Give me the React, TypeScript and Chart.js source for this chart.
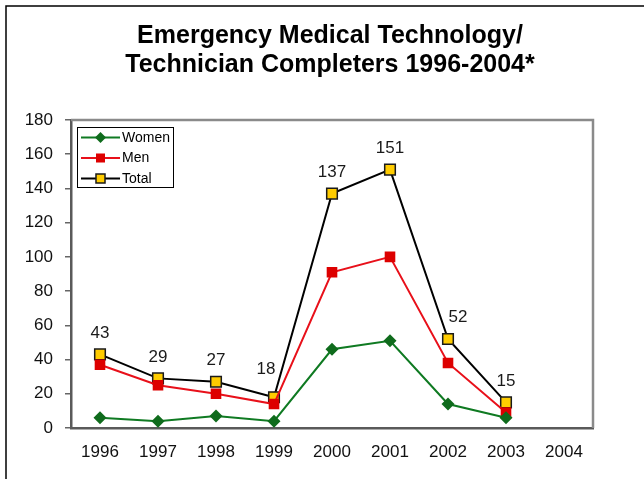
import React, { useEffect, useRef } from 'react';
import { Chart, registerables } from 'chart.js';

Chart.register(...registerables);

const categories = ['1996', '1997', '1998', '1999', '2000', '2001', '2002', '2003', '2004'];
const womenValues = [6, 4, 7, 4, 46, 51, 14, 6, null];
const menValues = [37, 25, 20, 14, 91, 100, 38, 9, null];
const totalValues = [43, 29, 27, 18, 137, 151, 52, 15, null];
const titleLines = ['Emergency Medical Technology/', 'Technician Completers 1996-2004*'];
const yMin = 0;
const yMax = 180;
const yStep = 20;

const FONT = '"Liberation Sans", Arial, sans-serif';

// small manual nudges of the value labels, as in the original chart
const labelNudge: Record<number, [number, number]> = { 3: [-8, -6], 6: [10, 0] };

const framePlugin = {
  id: 'frame',
  beforeDraw(chart: any) {
    const ctx = chart.ctx;
    ctx.save();
    ctx.fillStyle = '#ffffff';
    ctx.fillRect(0, 0, chart.width, chart.height);
    ctx.strokeStyle = '#000000';
    ctx.lineWidth = 1.5;
    ctx.beginPath();
    ctx.moveTo(6, chart.height);
    ctx.lineTo(6, 6);
    ctx.lineTo(chart.width, 6);
    ctx.stroke();
    ctx.restore();
  },
  beforeDatasetsDraw(chart: any) {
    const { ctx, chartArea } = chart;
    ctx.save();
    ctx.strokeStyle = '#8a8a8a';
    ctx.lineWidth = 2.5;
    ctx.beginPath();
    ctx.moveTo(chartArea.left, chartArea.top);
    ctx.lineTo(chartArea.right, chartArea.top);
    ctx.lineTo(chartArea.right, chartArea.bottom);
    ctx.stroke();
    ctx.restore();
  },
};

const titlePlugin = {
  id: 'customTitle',
  afterDraw(chart: any) {
    const ctx = chart.ctx;
    ctx.save();
    ctx.fillStyle = '#000000';
    ctx.font = `bold 25px ${FONT}`;
    ctx.textAlign = 'center';
    ctx.textBaseline = 'middle';
    ctx.fillText(titleLines[0], 330, 36);
    ctx.fillText(titleLines[1], 330, 65);
    ctx.restore();
  },
};

const labelPlugin = {
  id: 'totalLabels',
  afterDatasetsDraw(chart: any) {
    const ctx = chart.ctx;
    const meta = chart.getDatasetMeta(2);
    ctx.save();
    ctx.fillStyle = '#1a1a1a';
    ctx.font = `17px ${FONT}`;
    ctx.textAlign = 'center';
    ctx.textBaseline = 'middle';
    meta.data.forEach((pt: any, i: number) => {
      const v = totalValues[i];
      if (v === null || v === undefined) return;
      const [dx, dy] = labelNudge[i] || [0, 0];
      ctx.fillText(String(v), pt.x + dx, pt.y - 21.5 + dy);
    });
    ctx.restore();
  },
};

function drawMarker(ctx: CanvasRenderingContext2D, style: string, x: number, y: number, r: number, fill: string, stroke: string, lw: number) {
  ctx.save();
  ctx.fillStyle = fill;
  ctx.strokeStyle = stroke;
  ctx.lineWidth = lw;
  ctx.beginPath();
  if (style === 'rectRot') {
    ctx.moveTo(x, y - r);
    ctx.lineTo(x + r, y);
    ctx.lineTo(x, y + r);
    ctx.lineTo(x - r, y);
    ctx.closePath();
  } else {
    const s = r * Math.SQRT1_2;
    ctx.rect(x - s, y - s, 2 * s, 2 * s);
  }
  ctx.fill();
  if (lw > 0) ctx.stroke();
  ctx.restore();
}

const legendPlugin = {
  id: 'boxLegend',
  afterDraw(chart: any) {
    const ctx = chart.ctx;
    const left = 77.5;
    const top = 127.5;
    const w = 96;
    const h = 60;
    ctx.save();
    ctx.fillStyle = '#ffffff';
    ctx.fillRect(left, top, w, h);
    ctx.strokeStyle = '#000000';
    ctx.lineWidth = 1;
    ctx.strokeRect(left, top, w, h);
    chart.data.datasets.forEach((ds: any, i: number) => {
      const y = 137.5 + i * 20.5;
      ctx.strokeStyle = ds.borderColor;
      ctx.lineWidth = 2;
      ctx.beginPath();
      ctx.moveTo(81, y);
      ctx.lineTo(120, y);
      ctx.stroke();
      drawMarker(ctx, ds.pointStyle, 100.5, y, ds.pointRadius * 0.85, ds.pointBackgroundColor, ds.pointBorderColor, ds.pointBorderWidth);
      ctx.fillStyle = '#000000';
      ctx.font = `14px ${FONT}`;
      ctx.textAlign = 'left';
      ctx.textBaseline = 'middle';
      ctx.fillText(ds.label, 122, y + 0.5);
    });
    ctx.restore();
  },
};

export default function App() {
  const canvasRef = useRef<HTMLCanvasElement | null>(null);

  useEffect(() => {
    document.body.style.margin = '0';
    const canvas = canvasRef.current;
    if (!canvas) return;
    const chart = new Chart(canvas, {
      type: 'line',
      data: {
        labels: categories,
        datasets: [
          {
            label: 'Women',
            data: womenValues,
            borderColor: '#0f7a22',
            backgroundColor: '#0f6b1c',
            borderWidth: 2,
            pointStyle: 'rectRot',
            pointRadius: 6.5,
            pointBackgroundColor: '#0f6b1c',
            pointBorderColor: '#0f6b1c',
            pointBorderWidth: 0,
            tension: 0,
          },
          {
            label: 'Men',
            data: menValues,
            borderColor: '#e8101a',
            backgroundColor: '#dd0000',
            borderWidth: 2,
            pointStyle: 'rect',
            pointRadius: 7.5,
            pointBackgroundColor: '#dd0000',
            pointBorderColor: '#dd0000',
            pointBorderWidth: 0,
            tension: 0,
          },
          {
            label: 'Total',
            data: totalValues,
            borderColor: '#000000',
            backgroundColor: '#ffcc00',
            borderWidth: 2,
            pointStyle: 'rect',
            pointRadius: 7.5,
            pointBackgroundColor: '#ffcc00',
            pointBorderColor: '#1a1a1a',
            pointBorderWidth: 1.5,
            tension: 0,
          },
        ],
      },
      options: {
        animation: false,
        responsive: false,
        maintainAspectRatio: false,
        layout: { padding: { top: 120, right: 51, left: 0, bottom: 0 } },
        plugins: {
          legend: { display: false },
          title: { display: false },
          tooltip: { enabled: false },
        },
        scales: {
          x: {
            type: 'category',
            offset: true,
            grid: { display: false, drawTicks: false },
            border: { display: true, color: '#5a5a5a', width: 2.5 },
            ticks: {
              color: '#111111',
              font: { family: FONT, size: 17 },
              padding: 14,
              maxRotation: 0,
              autoSkip: false,
            },
            afterFit(scale: any) {
              scale.height = 51;
            },
          },
          y: {
            min: yMin,
            max: yMax,
            grid: { drawOnChartArea: false, drawTicks: true, tickLength: 6, color: '#666666', lineWidth: 1.5 },
            border: { display: true, color: '#5a5a5a', width: 2.5 },
            ticks: {
              stepSize: yStep,
              color: '#111111',
              font: { family: FONT, size: 17 },
              padding: 12,
            },
            afterFit(scale: any) {
              scale.width = 71;
            },
          },
        },
      },
      plugins: [framePlugin, titlePlugin, labelPlugin, legendPlugin],
    });
    return () => chart.destroy();
  }, []);

  return (
    <div style={{ width: 644, height: 479, position: 'relative' }}>
      <canvas ref={canvasRef} width={644} height={479} style={{ display: 'block' }} />
    </div>
  );
}
